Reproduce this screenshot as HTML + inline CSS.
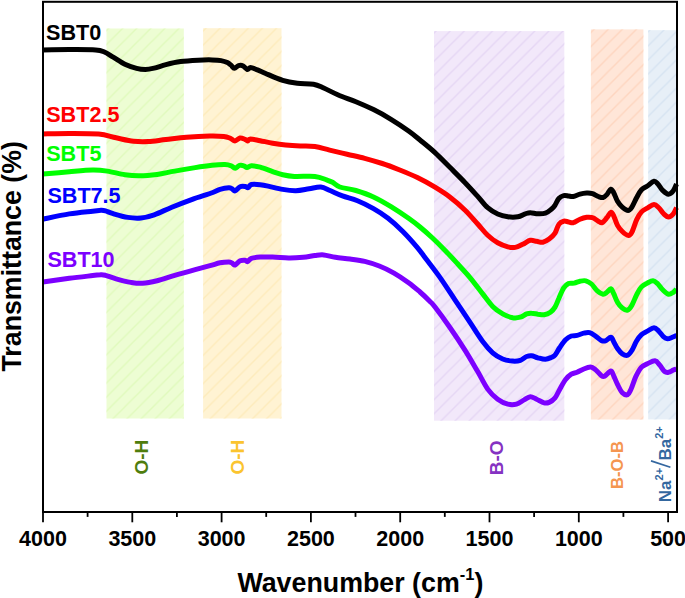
<!DOCTYPE html>
<html><head><meta charset="utf-8"><title>FTIR spectra</title>
<style>
html,body{margin:0;padding:0;background:#fff;}
body{width:685px;height:598px;overflow:hidden;font-family:"Liberation Sans",sans-serif;}
svg{display:block;font-family:"Liberation Sans",sans-serif;font-weight:bold;}
</style></head><body>
<svg width="685" height="598" viewBox="0 0 685 598">
<defs>
<pattern id="hg" patternUnits="userSpaceOnUse" width="14.1" height="14.1" patternTransform="translate(10,0)"><path d="M-1 15.1L15.1 -1M-8.05 8.05L8.05 -8.05M6.05 22.15L22.15 6.05" stroke="#e0fabc" stroke-width="1.35"/></pattern>
<pattern id="hy" patternUnits="userSpaceOnUse" width="14.1" height="14.1" patternTransform="translate(8.6,0)"><path d="M-1 15.1L15.1 -1M-8.05 8.05L8.05 -8.05M6.05 22.15L22.15 6.05" stroke="#fdebbb" stroke-width="1.35"/></pattern>
<pattern id="hp" patternUnits="userSpaceOnUse" width="14.1" height="14.1" patternTransform="translate(1.8,0)"><path d="M-1 15.1L15.1 -1M-8.05 8.05L8.05 -8.05M6.05 22.15L22.15 6.05" stroke="#e5d6f4" stroke-width="1.35"/></pattern>
<pattern id="ho" patternUnits="userSpaceOnUse" width="14.1" height="14.1" patternTransform="translate(3,0)"><path d="M-1 15.1L15.1 -1M-8.05 8.05L8.05 -8.05M6.05 22.15L22.15 6.05" stroke="#fed5bf" stroke-width="1.35"/></pattern>
<pattern id="hb" patternUnits="userSpaceOnUse" width="14.1" height="14.1" patternTransform="translate(3.1,0)"><path d="M-1 15.1L15.1 -1M-8.05 8.05L8.05 -8.05M6.05 22.15L22.15 6.05" stroke="#d6e3f1" stroke-width="1.35"/></pattern>
</defs>
<rect x="0" y="0" width="685" height="598" fill="#fff"/>
<!-- shaded bands -->
<rect x="106.5" y="28.5" width="77.3" height="390" fill="#edfdd3"/><rect x="106.5" y="28.5" width="77.3" height="390" fill="url(#hg)"/>
<rect x="203.1" y="28.2" width="78.4" height="390.3" fill="#fff3d3"/><rect x="203.1" y="28.2" width="78.4" height="390.3" fill="url(#hy)"/>
<rect x="434" y="31.1" width="130.3" height="389.6" fill="#f2e8fa"/><rect x="434" y="31.1" width="130.3" height="389.6" fill="url(#hp)"/>
<rect x="590.9" y="29.4" width="52.5" height="390.1" fill="#ffe6d8"/><rect x="590.9" y="29.4" width="52.5" height="390.1" fill="url(#ho)"/>
<rect x="648.2" y="30.2" width="28.8" height="389.2" fill="#e7eff7"/><rect x="648.2" y="30.2" width="28.8" height="389.2" fill="url(#hb)"/>
<!-- curves -->
<g fill="none" stroke-width="5" stroke-linejoin="round" stroke-linecap="butt">
<path d="M42.9 49.9C47.3 49.9 60.5 49.6 69.3 49.6C78.1 49.6 89.8 49.5 95.6 49.9C101.4 50.3 101.5 50.8 104.4 52.0C107.3 53.2 109.8 55.2 113.2 57.2C116.6 59.2 121.0 62.4 124.9 64.3C128.8 66.2 133.2 67.5 136.6 68.4C140.0 69.3 142.5 69.5 145.4 69.5C148.3 69.5 150.8 68.9 154.2 68.1C157.6 67.3 161.5 65.7 165.9 64.6C170.3 63.5 175.2 62.3 180.6 61.6C186.0 60.9 192.9 60.5 198.1 60.2C203.3 59.9 208.2 59.8 212.0 59.9C215.8 60.0 218.4 60.1 221.0 60.6C223.6 61.1 225.7 61.8 227.4 62.6C229.1 63.4 229.8 64.2 231.0 65.2C232.2 66.2 233.2 68.2 234.4 68.3C235.7 68.4 237.0 66.0 238.5 65.6C240.0 65.2 241.7 65.3 243.2 66.0C244.7 66.7 246.1 69.2 247.3 69.5C248.5 69.8 249.1 67.5 250.5 67.5C251.9 67.5 253.6 68.3 256.0 69.3C258.4 70.2 260.7 71.3 265.1 73.2C269.6 75.1 277.3 78.7 282.7 80.4C288.1 82.1 292.2 82.7 297.3 83.3C302.4 83.9 309.1 83.4 313.5 84.2C317.9 85.0 319.6 86.2 323.7 88.0C327.8 89.8 332.9 92.7 338.3 95.0C343.7 97.3 350.0 99.3 355.9 101.7C361.8 104.1 367.6 106.7 373.5 109.6C379.4 112.5 385.1 115.7 391.0 119.3C396.9 122.9 403.8 127.5 408.6 131.0C413.4 134.4 415.6 136.4 420.0 140.0C424.4 143.6 430.0 148.0 435.0 152.6C440.0 157.2 445.1 162.6 450.1 167.6C455.1 172.6 460.5 177.9 465.1 182.7C469.7 187.5 473.9 192.2 477.7 196.4C481.5 200.6 484.4 204.8 487.7 207.7C491.0 210.6 494.3 212.5 497.7 214.0C501.1 215.5 504.5 216.3 507.8 216.8C511.1 217.3 514.9 217.3 517.8 216.8C520.7 216.3 523.2 214.5 525.3 213.8C527.4 213.1 528.2 212.7 530.3 212.7C532.4 212.7 535.4 213.7 537.9 213.8C540.4 213.9 543.1 214.0 545.4 213.2C547.7 212.4 550.0 210.3 551.6 209.0C553.2 207.7 553.8 206.9 555.0 205.2C556.2 203.4 557.3 200.1 558.8 198.5C560.2 196.9 562.1 196.0 563.7 195.6C565.3 195.2 566.9 195.8 568.5 196.0C570.1 196.2 571.4 196.8 573.3 196.5C575.2 196.2 577.8 194.8 580.0 194.2C582.2 193.6 584.6 193.2 586.7 193.1C588.8 193.0 590.6 193.1 592.5 193.7C594.4 194.3 596.5 195.9 598.3 196.5C600.1 197.1 601.7 197.8 603.1 197.5C604.5 197.2 605.6 196.0 606.9 194.6C608.2 193.2 609.7 189.5 610.8 189.2C611.9 188.9 612.6 190.7 613.7 192.7C614.8 194.7 616.1 198.9 617.5 201.3C618.9 203.7 620.5 205.6 622.3 207.1C624.1 208.6 626.5 210.4 628.1 210.4C629.7 210.4 630.5 209.2 631.9 207.1C633.3 204.9 635.1 200.4 636.7 197.5C638.3 194.6 639.7 191.7 641.5 189.8C643.3 187.9 645.2 187.4 647.3 186.0C649.4 184.6 652.2 181.5 654.0 181.2C655.8 180.9 656.4 182.5 657.9 184.0C659.4 185.5 660.9 188.7 662.7 190.4C664.5 192.1 666.7 194.1 668.5 194.2C670.3 194.3 672.0 192.5 673.3 190.8C674.6 189.1 676.0 185.1 676.5 184.0" stroke="#000000"/>
<path d="M42.9 134.0C47.3 133.9 60.0 133.4 69.3 133.4C78.6 133.4 90.8 133.3 98.6 134.0C106.4 134.7 110.2 136.6 116.1 137.8C121.9 139.0 128.3 140.7 133.7 141.3C139.1 141.9 142.9 141.9 148.3 141.6C153.7 141.3 159.6 140.2 165.9 139.5C172.2 138.8 179.1 137.8 186.4 137.2C193.7 136.6 203.6 136.1 209.8 136.0C216.0 135.9 220.4 136.1 223.8 136.5C227.2 136.9 228.1 137.5 230.0 138.2C231.9 138.9 233.3 140.9 235.0 140.9C236.7 140.9 238.3 138.3 240.0 138.0C241.7 137.7 243.7 138.8 245.0 139.3C246.3 139.8 246.7 141.0 247.6 140.9C248.5 140.8 248.2 138.9 250.3 138.9C252.4 138.9 256.5 140.0 260.2 140.7C263.9 141.4 268.5 142.5 272.7 143.2C276.9 143.9 281.0 144.5 285.6 145.0C290.2 145.5 295.4 145.8 300.3 146.0C305.2 146.2 310.0 145.8 314.9 146.5C319.8 147.2 324.2 148.8 329.6 150.1C335.0 151.4 341.2 152.8 347.1 154.2C353.0 155.6 358.8 156.8 364.7 158.3C370.6 159.9 376.4 161.6 382.3 163.5C388.2 165.4 394.0 167.7 399.8 170.0C405.6 172.3 411.5 174.7 417.4 177.6C423.3 180.5 429.6 183.9 435.0 187.2C440.4 190.5 445.1 193.4 450.1 197.2C455.1 201.0 460.5 205.7 465.1 210.2C469.7 214.7 473.9 219.8 477.7 224.0C481.5 228.2 484.4 232.2 487.7 235.3C491.0 238.4 494.3 240.9 497.7 242.8C501.1 244.7 504.9 246.1 507.8 246.9C510.7 247.7 512.8 247.8 515.3 247.4C517.8 247.0 520.3 245.5 522.8 244.3C525.3 243.1 528.0 240.8 530.3 240.3C532.6 239.8 534.5 241.0 536.6 241.3C538.7 241.6 540.8 242.7 542.9 242.3C545.0 241.9 547.1 240.6 549.1 239.1C551.1 237.6 553.4 235.5 555.0 233.1C556.6 230.7 557.3 226.4 558.8 224.4C560.2 222.4 562.1 221.6 563.7 221.2C565.3 220.8 566.9 221.7 568.5 221.9C570.1 222.2 571.4 223.1 573.3 222.7C575.2 222.2 577.8 220.1 580.0 219.2C582.2 218.3 584.6 217.6 586.7 217.3C588.8 217.1 590.6 217.0 592.5 217.7C594.4 218.3 596.7 220.4 598.3 221.2C599.9 222.0 600.7 223.3 602.1 222.7C603.5 222.1 605.5 219.4 606.9 217.7C608.3 216.0 609.7 212.6 610.8 212.3C611.9 212.0 612.6 213.6 613.7 215.8C614.8 218.0 616.1 222.8 617.5 225.4C618.9 228.0 620.5 229.8 622.3 231.5C624.1 233.2 626.9 235.3 628.5 235.4C630.1 235.5 630.5 234.7 631.9 232.1C633.3 229.5 635.1 223.0 636.7 219.6C638.3 216.2 639.7 213.8 641.5 211.9C643.3 210.0 645.2 209.3 647.3 208.1C649.4 206.9 652.1 204.7 654.0 204.6C655.9 204.5 657.2 206.2 658.8 207.7C660.4 209.2 662.1 212.3 663.7 213.8C665.3 215.3 666.9 216.9 668.5 216.9C670.1 216.9 672.0 215.3 673.3 213.8C674.6 212.3 676.0 208.7 676.5 207.7" stroke="#ff0000"/>
<path d="M42.9 174.1C47.3 173.7 61.0 172.4 69.3 171.7C77.6 171.0 86.4 170.1 92.7 170.0C99.0 169.9 101.9 170.3 107.3 171.1C112.7 171.9 119.5 173.9 124.9 174.7C130.3 175.5 134.2 175.9 139.6 175.8C145.0 175.8 151.2 175.2 157.1 174.4C162.9 173.6 168.3 172.2 174.7 171.1C181.0 170.0 189.0 168.6 195.2 167.6C201.4 166.6 207.0 165.8 212.0 165.3C217.0 164.8 221.8 164.5 225.0 164.6C228.2 164.7 229.6 165.2 231.3 165.8C233.0 166.4 233.7 168.3 235.1 168.2C236.5 168.1 238.0 165.8 239.5 165.4C241.0 165.0 242.7 165.4 243.9 165.8C245.2 166.2 245.8 167.6 247.0 167.6C248.2 167.6 249.2 165.9 251.4 165.8C253.6 165.7 256.6 166.2 260.2 167.2C263.8 168.2 268.9 170.3 272.7 171.6C276.4 172.8 279.1 173.9 282.7 174.7C286.3 175.5 289.0 176.1 294.4 176.4C299.8 176.7 309.5 175.8 314.9 176.4C320.3 177.0 323.7 178.9 326.6 179.9C329.5 180.9 330.3 181.1 332.5 182.3C334.7 183.5 335.9 185.6 339.8 187.0C343.7 188.4 350.3 188.8 355.9 190.5C361.5 192.2 367.6 194.2 373.5 196.9C379.4 199.6 385.1 203.0 391.0 206.6C396.9 210.2 403.8 214.9 408.6 218.3C413.4 221.7 416.0 223.7 420.0 227.0C424.0 230.3 428.3 234.1 432.5 238.0C436.7 241.9 440.9 246.1 445.1 250.4C449.3 254.7 453.4 259.2 457.6 263.8C461.8 268.4 466.0 272.8 470.2 277.8C474.4 282.8 478.9 289.1 482.7 293.9C486.4 298.7 489.4 303.1 492.7 306.4C496.0 309.7 499.4 312.0 502.7 313.9C506.0 315.8 509.9 317.1 512.8 317.7C515.7 318.2 518.0 317.8 520.3 317.2C522.6 316.6 524.7 314.6 526.6 313.9C528.5 313.2 529.7 313.1 531.6 313.2C533.5 313.2 535.8 313.9 537.9 314.2C540.0 314.4 542.0 315.0 544.1 314.7C546.2 314.4 548.6 313.5 550.4 312.2C552.2 310.9 553.6 309.4 555.0 307.1C556.4 304.8 557.3 301.7 558.8 298.5C560.2 295.3 562.1 290.4 563.7 287.9C565.3 285.4 566.8 284.3 568.5 283.5C570.2 282.7 572.3 283.5 574.2 283.1C576.1 282.7 578.1 281.6 580.0 281.2C581.9 280.8 583.9 280.3 585.8 280.8C587.7 281.3 589.6 282.3 591.5 284.0C593.4 285.7 595.4 289.1 597.3 290.8C599.2 292.5 601.5 293.9 603.1 294.2C604.7 294.4 605.6 293.2 606.9 292.3C608.2 291.4 609.7 288.6 610.8 288.8C611.9 289.0 612.6 291.4 613.7 293.7C614.8 295.9 616.1 299.9 617.5 302.3C618.9 304.7 620.6 306.8 622.3 308.1C624.0 309.4 626.1 310.5 627.7 310.0C629.3 309.5 630.4 307.8 631.9 305.2C633.4 302.6 635.1 297.7 636.7 294.6C638.3 291.6 639.7 288.8 641.5 286.9C643.3 285.0 645.4 284.1 647.3 283.1C649.2 282.1 651.3 280.7 653.1 280.8C654.9 280.9 656.3 282.5 657.9 284.0C659.5 285.5 660.9 288.1 662.7 289.8C664.5 291.5 666.7 293.8 668.5 294.2C670.3 294.6 672.0 293.1 673.3 292.3C674.6 291.5 676.0 289.7 676.5 289.2" stroke="#00ff00"/>
<path d="M42.9 219.2C47.3 218.3 61.0 215.2 69.3 213.9C77.6 212.6 87.4 211.8 92.7 211.2C98.0 210.6 98.9 210.4 101.0 210.3C103.1 210.2 103.5 210.3 105.5 210.9C107.5 211.5 109.5 212.6 113.2 213.7C116.9 214.8 123.2 216.7 127.8 217.4C132.4 218.1 136.6 218.4 141.0 218.0C145.4 217.6 149.1 216.6 154.2 214.8C159.3 213.0 165.5 209.8 171.8 207.2C178.2 204.6 185.5 201.8 192.3 199.3C199.1 196.9 208.2 194.2 212.8 192.5C217.4 190.8 217.3 190.2 220.0 189.4C222.7 188.6 226.8 187.9 228.8 187.8C230.8 187.7 230.9 188.3 232.0 188.8C233.1 189.3 233.8 191.2 235.1 190.9C236.4 190.6 238.4 187.4 240.1 186.7C241.8 186.0 243.8 186.3 245.1 186.5C246.4 186.7 247.1 188.0 248.2 187.7C249.2 187.4 249.4 185.0 251.4 184.5C253.4 184.0 257.4 184.4 260.2 184.7C263.0 185.0 264.4 185.3 268.1 186.1C271.9 186.9 278.1 188.6 282.7 189.4C287.3 190.2 291.5 190.8 295.9 190.7C300.3 190.6 305.0 189.4 309.1 188.8C313.2 188.2 317.3 186.8 320.8 187.1C324.3 187.4 326.4 189.0 330.0 190.5C333.6 192.0 337.9 194.2 342.5 195.9C347.1 197.6 352.3 198.7 357.5 200.8C362.7 202.9 368.4 205.8 373.5 208.7C378.6 211.6 383.2 214.5 388.1 218.3C393.0 222.1 397.9 226.6 402.8 231.5C407.7 236.4 413.5 243.0 417.4 247.6C421.3 252.2 422.5 254.3 426.3 259.3C430.1 264.3 435.3 270.8 440.1 277.6C444.9 284.4 450.1 292.6 455.1 300.1C460.1 307.6 465.6 315.8 470.2 322.7C474.8 329.6 478.9 336.5 482.7 341.5C486.4 346.5 489.4 349.9 492.7 352.8C496.0 355.7 499.4 357.6 502.7 359.0C506.0 360.4 509.9 360.9 512.8 361.1C515.7 361.3 518.0 361.1 520.3 360.3C522.6 359.5 524.7 357.2 526.6 356.5C528.5 355.8 529.7 355.6 531.6 355.8C533.5 356.0 535.6 357.2 537.9 357.8C540.2 358.4 543.1 359.4 545.4 359.3C547.7 359.2 550.0 358.0 551.6 357.3C553.2 356.6 553.6 356.8 555.0 355.2C556.4 353.6 558.0 350.1 559.8 347.5C561.6 344.9 563.7 341.7 565.6 339.8C567.5 337.9 569.4 336.7 571.3 336.0C573.2 335.3 575.0 335.9 577.1 335.4C579.2 334.9 581.7 333.6 583.8 333.1C585.9 332.7 587.7 332.2 589.6 332.7C591.5 333.2 593.5 334.7 595.4 336.0C597.3 337.3 599.5 339.6 601.2 340.4C602.9 341.2 603.8 341.3 605.4 340.8C607.0 340.3 609.4 337.2 610.8 337.3C612.2 337.4 612.6 339.8 613.7 341.7C614.8 343.6 616.1 346.5 617.5 348.5C618.9 350.5 620.6 352.7 622.3 353.8C624.0 354.9 626.1 355.8 627.7 355.2C629.3 354.6 630.4 352.8 631.9 350.4C633.4 348.0 635.1 343.4 636.7 340.8C638.3 338.2 639.7 336.2 641.5 334.6C643.3 333.0 645.2 332.4 647.3 331.2C649.4 330.0 652.1 327.7 654.0 327.7C655.9 327.7 657.2 329.7 658.8 331.2C660.4 332.7 662.2 335.6 663.7 336.9C665.2 338.2 666.1 338.7 667.5 338.8C668.9 338.9 670.8 337.9 672.3 337.3C673.8 336.7 675.8 335.7 676.5 335.4" stroke="#0000ff"/>
<path d="M42.9 281.9C47.3 281.3 61.0 279.4 69.3 278.3C77.6 277.2 87.4 276.2 92.7 275.6C98.0 275.0 98.9 274.8 101.0 274.7C103.1 274.6 103.0 274.6 105.5 275.3C108.0 276.0 111.9 277.7 116.1 278.9C120.3 280.1 126.4 281.7 130.8 282.4C135.2 283.1 138.1 283.6 142.5 283.3C146.9 283.0 151.7 282.0 157.1 280.7C162.5 279.4 168.3 277.2 174.7 275.4C181.0 273.5 189.3 271.2 195.2 269.6C201.1 268.0 205.9 266.8 210.0 265.7C214.1 264.6 216.9 263.4 220.0 262.8C223.1 262.2 226.8 262.0 228.8 262.0C230.8 262.0 230.9 262.5 232.0 263.0C233.1 263.5 233.8 265.4 235.1 265.0C236.4 264.6 238.4 261.6 240.1 260.8C241.8 260.0 243.8 260.1 245.1 260.2C246.3 260.3 246.5 261.9 247.6 261.6C248.7 261.3 249.3 259.1 251.4 258.3C253.5 257.6 256.6 257.3 260.2 257.1C263.8 256.9 268.0 256.9 272.7 257.0C277.4 257.1 283.5 257.9 288.6 258.0C293.7 258.1 298.8 257.7 303.2 257.3C307.6 256.9 311.5 255.9 314.9 255.5C318.3 255.1 320.3 254.6 323.7 254.9C327.1 255.2 331.0 256.6 335.4 257.3C339.8 258.0 345.1 258.3 350.0 259.0C354.9 259.7 359.8 260.2 364.7 261.4C369.6 262.6 374.4 264.1 379.3 266.0C384.2 267.9 389.1 270.3 394.0 273.1C398.9 275.9 404.3 279.6 408.6 282.7C412.9 285.8 416.4 288.9 420.0 292.0C423.6 295.1 427.5 298.9 430.0 301.4C432.5 303.9 431.6 302.6 435.0 307.0C438.4 311.4 445.1 320.5 450.1 327.7C455.1 334.9 460.5 343.0 465.1 350.3C469.7 357.6 473.9 365.1 477.7 371.6C481.5 378.1 484.4 384.5 487.7 389.1C491.0 393.7 494.3 396.7 497.7 399.2C501.1 401.7 504.7 403.4 507.8 404.2C510.9 405.0 513.8 404.9 516.5 404.2C519.2 403.5 521.8 401.1 524.1 399.9C526.4 398.6 528.2 396.8 530.3 396.7C532.4 396.6 534.3 398.2 536.6 399.2C538.9 400.2 542.0 402.4 544.1 402.9C546.2 403.4 547.3 403.2 549.1 402.4C550.9 401.6 553.2 400.1 555.0 397.9C556.8 395.7 558.0 392.2 559.8 389.2C561.6 386.1 563.7 382.1 565.6 379.6C567.5 377.1 569.4 375.4 571.3 374.2C573.2 373.0 575.0 373.2 577.1 372.3C579.2 371.4 581.5 369.9 583.8 369.0C586.0 368.1 588.7 367.0 590.6 367.1C592.5 367.2 593.6 368.2 595.4 369.6C597.2 371.0 599.7 374.3 601.2 375.4C602.7 376.5 603.0 376.9 604.6 376.2C606.2 375.5 609.3 371.1 610.8 371.0C612.3 370.9 612.6 373.6 613.7 375.8C614.8 378.0 616.1 381.6 617.5 384.4C618.9 387.2 620.6 391.0 622.3 392.7C624.0 394.4 626.2 395.2 627.7 394.6C629.2 394.0 629.6 392.2 631.0 389.2C632.4 386.2 634.0 380.4 635.8 376.7C637.5 373.0 639.6 369.2 641.5 367.1C643.4 365.0 645.0 364.9 647.3 363.8C649.5 362.8 652.9 360.6 655.0 360.8C657.1 361.0 658.2 363.4 659.8 365.2C661.4 367.0 663.1 370.3 664.6 371.5C666.1 372.7 667.0 372.6 668.5 372.3C670.0 372.1 672.0 370.6 673.3 370.0C674.6 369.4 676.0 369.2 676.5 369.0" stroke="#7c00ff"/>
</g>
<!-- axes -->
<rect x="43" y="1.8" width="634" height="510.2" fill="none" stroke="#000" stroke-width="2"/>
<g stroke="#000" stroke-width="1.8"><line x1="43.0" y1="512" x2="43.0" y2="522.3"/><line x1="132.3" y1="512" x2="132.3" y2="522.3"/><line x1="221.6" y1="512" x2="221.6" y2="522.3"/><line x1="310.9" y1="512" x2="310.9" y2="522.3"/><line x1="400.2" y1="512" x2="400.2" y2="522.3"/><line x1="489.5" y1="512" x2="489.5" y2="522.3"/><line x1="578.8" y1="512" x2="578.8" y2="522.3"/><line x1="668.1" y1="512" x2="668.1" y2="522.3"/><line x1="87.6" y1="512" x2="87.6" y2="516.9"/><line x1="176.9" y1="512" x2="176.9" y2="516.9"/><line x1="266.2" y1="512" x2="266.2" y2="516.9"/><line x1="355.5" y1="512" x2="355.5" y2="516.9"/><line x1="444.8" y1="512" x2="444.8" y2="516.9"/><line x1="534.1" y1="512" x2="534.1" y2="516.9"/><line x1="623.4" y1="512" x2="623.4" y2="516.9"/></g>
<!-- tick labels -->
<g font-size="21.5" fill="#000"><text x="43.0" y="546" text-anchor="middle">4000</text><text x="132.3" y="546" text-anchor="middle">3500</text><text x="221.6" y="546" text-anchor="middle">3000</text><text x="310.9" y="546" text-anchor="middle">2500</text><text x="400.2" y="546" text-anchor="middle">2000</text><text x="489.5" y="546" text-anchor="middle">1500</text><text x="578.8" y="546" text-anchor="middle">1000</text><text x="668.1" y="546" text-anchor="middle">500</text></g>
<!-- axis titles -->
<text x="237.4" y="591.6" font-size="26.8" fill="#000">Wavenumber (cm<tspan font-size="16.5" dy="-11.2">-1</tspan><tspan dy="11.2">)</tspan></text>
<text transform="translate(20.9,371.5) rotate(-90)" font-size="26.75" fill="#000">Transmittance (%)</text>
<!-- series labels -->
<g font-size="21.6">
<text x="46" y="39.9" fill="#000000">SBT0</text>
<text x="46.2" y="121.5" fill="#ff0000">SBT2.5</text>
<text x="46.2" y="161" fill="#00ff00">SBT5</text>
<text x="47.4" y="202.9" fill="#0000ff">SBT7.5</text>
<text x="47.4" y="267.3" fill="#7c00ff">SBT10</text>
</g>
<!-- band labels -->
<text transform="translate(147.7,474.5) rotate(-90)" font-size="19" fill="#4f7d0d">O-H</text>
<text transform="translate(244.2,474.5) rotate(-90)" font-size="19" fill="#fbc42f">O-H</text>
<text transform="translate(503.1,475.2) rotate(-90)" font-size="19" fill="#8532c2">B-O</text>
<text transform="translate(623.2,489) rotate(-90)" font-size="16.6" fill="#f59650">B-O-B</text>
<text transform="translate(670.5,502.2) rotate(-90)" font-size="17" fill="#34679f">Na<tspan font-size="11" dy="-7.4">2+</tspan></text>
<line x1="670.4" y1="467.2" x2="651" y2="460.9" stroke="#34679f" stroke-width="1.7"/>
<text transform="translate(670.5,460.6) rotate(-90)" font-size="17" fill="#34679f">Ba<tspan font-size="11" dy="-7.4">2+</tspan></text>
</svg>
</body></html>
